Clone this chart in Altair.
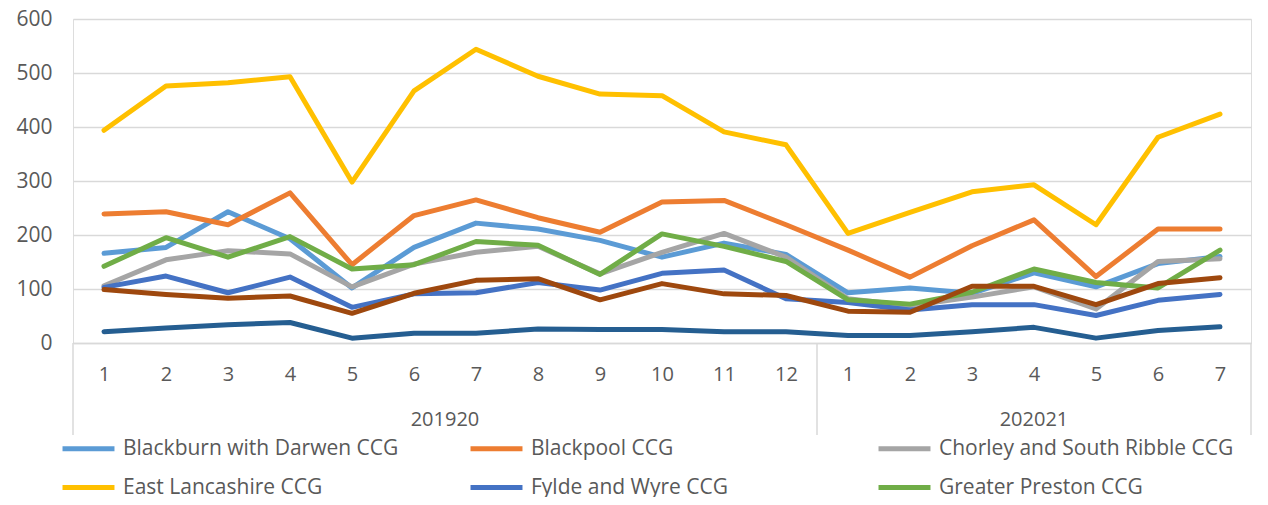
import altair as alt
import pandas as pd

# ---- data -------------------------------------------------------------
years = ["201920", "202021"]
months_per_year = [12, 7]

series_names = [
    "Blackburn with Darwen CCG",
    "Blackpool CCG",
    "Chorley and South Ribble CCG",
    "East Lancashire CCG",
    "Fylde and Wyre CCG",
    "Greater Preston CCG",
    "Morecambe Bay CCG",
    "West Lancashire CCG",
]
series_colors = ["#5B9BD5", "#ED7D31", "#A5A5A5", "#FFC000",
                 "#4472C4", "#70AD47", "#255E91", "#9E480E"]
legend_names = series_names[:6]

blackburn = [166, 177, 243, 193, 102, 177, 222, 211, 190, 159, 185, 164, 93, 102, 92, 130, 104, 147, 160]
blackpool = [239, 243, 219, 278, 145, 236, 265, 232, 205, 261, 264, 219, 172, 122, 180, 228, 123, 211, 211]
chorley = [106, 154, 171, 165, 104, 146, 168, 179, 128, 168, 203, 159, 82, 69, 85, 104, 63, 151, 156]
east_lancs = [394, 476, 482, 493, 298, 467, 544, 494, 461, 458, 391, 367, 203, 242, 280, 293, 219, 381, 424]
fylde = [103, 124, 93, 122, 66, 91, 93, 112, 98, 129, 135, 82, 75, 61, 71, 71, 51, 79, 90]
preston = [142, 195, 159, 197, 137, 145, 188, 181, 127, 202, 179, 151, 80, 72, 94, 137, 112, 102, 172]
morecambe = [21, 28, 34, 38, 9, 18, 18, 26, 25, 25, 21, 21, 14, 14, 21, 29, 9, 23, 30]
west_lancs = [99, 90, 83, 87, 55, 92, 116, 119, 80, 110, 91, 88, 59, 57, 105, 105, 71, 110, 121]

all_values = [blackburn, blackpool, chorley, east_lancs, fylde, preston, morecambe, west_lancs]

# ---- tables -----------------------------------------------------------
rows = []
cats = []
idx = 0
for y, n in zip(years, months_per_year):
    for m in range(1, n + 1):
        idx += 1
        cats.append({"idx": idx, "year": y, "month": m})
for s_i, (name, vals) in enumerate(zip(series_names, all_values)):
    for c, v in zip(cats, vals):
        rows.append({"idx": c["idx"], "series": name, "order": s_i, "value": v})
df = pd.DataFrame(rows)
cat_df = pd.DataFrame(cats)

year_df = cat_df.groupby("year", as_index=False).agg(start=("idx", "min"), end=("idx", "max"))
year_df["center"] = (year_df["start"] + year_df["end"]) / 2
bounds = sorted(set([s - 0.5 for s in year_df["start"]] + [e + 0.5 for e in year_df["end"]]))
bounds_df = pd.DataFrame({"b": bounds})

month_expr = "datum.value <= 12 ? datum.value : datum.value - 12"

W, H = 1178, 324
FONT = "Open Sans"
TXT = "#595959"
GRID = "#D9D9D9"

xscale = alt.Scale(domain=[0.5, len(cats) + 0.5], nice=False, zero=False)

lines = alt.Chart(df).mark_line(strokeWidth=5, strokeCap="round", strokeJoin="round").encode(
    x=alt.X("idx:Q", scale=xscale,
            axis=alt.Axis(values=list(range(1, len(cats) + 1)), labelExpr=month_expr,
                          title=None, grid=False, ticks=False, domainColor=GRID, domainWidth=1.5,
                          labelFont=FONT, labelFontSize=20, labelColor=TXT, labelPadding=21)),
    y=alt.Y("value:Q", scale=alt.Scale(domain=[0, 600], nice=False),
            axis=alt.Axis(values=[0, 100, 200, 300, 400, 500, 600], title=None, domain=False,
                          ticks=False, gridColor=GRID, gridWidth=1.5,
                          labelFont=FONT, labelFontSize=21, labelColor=TXT, labelPadding=21)),
    color=alt.Color("series:N",
                    scale=alt.Scale(domain=series_names, range=series_colors),
                    legend=alt.Legend(values=legend_names, title=None, orient="none",
                                      direction="horizontal",
                                      legendX=-13, legendY=401, columns=3, gridAlign="all",
                                      columnPadding=42, rowPadding=-26,
                                      symbolType="stroke", symbolSize=2700, symbolStrokeWidth=5,
                                      labelFont=FONT, labelFontSize=21, labelColor=TXT,
                                      labelOffset=6, labelLimit=400)),
    order=alt.Order("order:Q"),
    detail="series:N",
)

seps = alt.Chart(bounds_df).mark_rule(color=GRID, strokeWidth=1.5).encode(
    x=alt.X("b:Q", scale=xscale),
    y=alt.value(H),
    y2=alt.value(H + 92),
)

year_text = alt.Chart(year_df).mark_text(font=FONT, fontSize=20, color=TXT, baseline="middle").encode(
    x=alt.X("center:Q", scale=xscale),
    y=alt.value(H + 77),
    text="year:N",
)

chart = alt.layer(seps, lines, year_text).properties(
    width=W, height=H,
    autosize=alt.AutoSizeParams(type="none"),
    padding={"left": 65, "top": 11, "right": 9, "bottom": 154},
).configure_view(stroke=None).configure(background="white")

chart.save("out.html", embed_options={"renderer": "svg", "actions": False})
